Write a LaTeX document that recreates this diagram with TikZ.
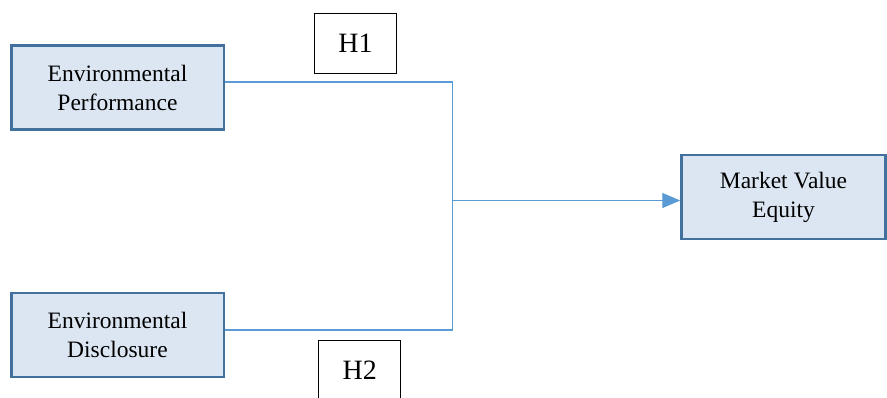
\documentclass[tikz,border=0pt]{standalone}
\usepackage{fontspec}
\setmainfont{Liberation Serif}
\usetikzlibrary{arrows.meta}
\definecolor{boxfill}{HTML}{DCE6F2}
\definecolor{boxedge}{HTML}{41719C}
\definecolor{conn}{HTML}{5B9BD5}
\begin{document}
\begin{tikzpicture}[x=1pt,y=-1pt,
  varbox/.style={draw=boxedge, line width=2.5pt, fill=boxfill, minimum width=212.5pt, minimum height=84pt, align=center, inner sep=0pt, font=\fontsize{23.5}{29}\selectfont},
  hbox/.style={draw=black, line width=0.9pt, fill=white, minimum width=82pt, minimum height=60pt, inner sep=0pt, font=\fontsize{28}{32}\selectfont},
  connline/.style={draw=conn, line width=1.4pt}
]
\useasboundingbox (0,0) rectangle (887,397);
\node[varbox] (ep) at (117.5,87.5) {Environmental\\Performance};
\node[varbox] (ed) at (117.5,335) {Environmental\\Disclosure};
\node[varbox, minimum width=204pt] (mve) at (783.5,197) {Market Value\\Equity};
\node[hbox] (h1) at (355.5,43) {H1};
\node[hbox] (h2) at (359.7,370) {H2};
\coordinate (j1) at (452.5,82);
\coordinate (j2) at (452.5,330);
\coordinate (j) at (452.5,200.5);
\draw[connline] (ep.east |- j1) -- (j1) -- (j);
\draw[connline] (ed.east |- j2) -- (j2) -- (j);
\draw[connline, -{Triangle[length=18pt,width=15pt]}] (j) -- (mve.west |- j);
\end{tikzpicture}
\end{document}
